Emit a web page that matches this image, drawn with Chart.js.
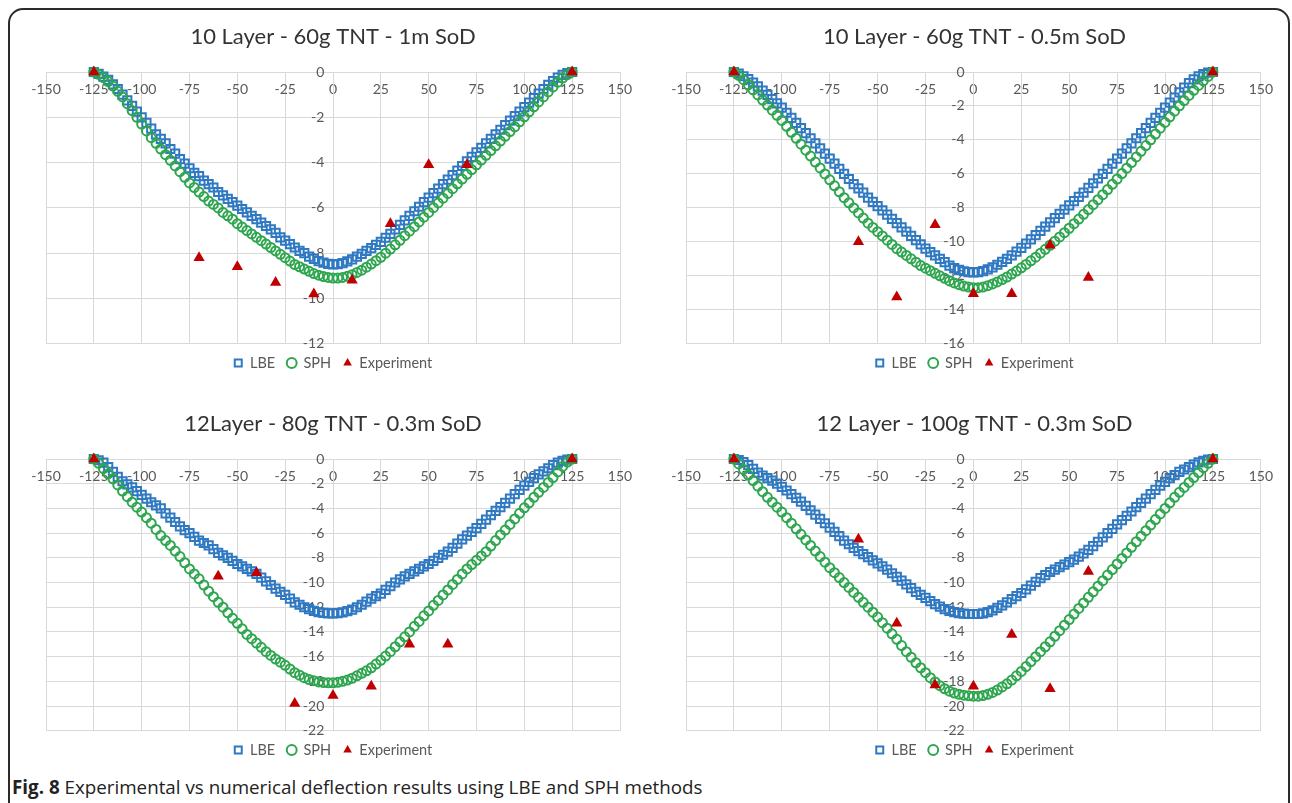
<!DOCTYPE html>
<html>
<head>
<meta charset="utf-8">
<script src="https://cdn.jsdelivr.net/npm/chart.js@4.4.1/dist/chart.umd.min.js"></script>
<style>
  html, body { margin: 0; padding: 0; background: #fff; width: 1292px; height: 803px; overflow: hidden; }
  .frame { position: absolute; left: 8px; top: 8px; width: 1282px; height: 840px; box-sizing: border-box;
           border: 2px solid #2b2b2b; border-radius: 15px; }
  canvas.panel { position: absolute; }
  .caption { position: absolute; left: 12px; top: 774px; font: 18.8px "Open Sans", sans-serif; color: #222; white-space: nowrap; }
  .caption b { font-weight: 700; }
</style>
</head>
<body>
<div class="frame"></div>
<canvas class="panel" id="p1" width="630" height="372" style="left:12px;top:12px"></canvas>
<canvas class="panel" id="p2" width="630" height="372" style="left:652px;top:12px"></canvas>
<canvas class="panel" id="p3" width="630" height="372" style="left:12px;top:399px"></canvas>
<canvas class="panel" id="p4" width="630" height="372" style="left:652px;top:399px"></canvas>
<div class="caption"><b>Fig. 8</b> Experimental vs numerical deflection results using LBE and SPH methods</div>

<script>
// x positions of the simulated profile (mm)
const SIM_X = [-125,-122.5,-120,-117.5,-115,-112.5,-110,-107.5,-105,-102.5,
  -100,-97.5,-95,-92.5,-90,-87.5,-85,-82.5,-80,-77.5,
  -75,-72.5,-70,-67.5,-65,-62.5,-60,-57.5,-55,-52.5,
  -50,-47.5,-45,-42.5,-40,-37.5,-35,-32.5,-30,-27.5,
  -25,-22.5,-20,-17.5,-15,-12.5,-10,-7.5,-5,-2.5,
  0,
  2.5,5,7.5,10,12.5,15,17.5,20,22.5,25,
  27.5,30,32.5,35,37.5,40,42.5,45,47.5,50,
  52.5,55,57.5,60,62.5,65,67.5,70,72.5,75,
  77.5,80,82.5,85,87.5,90,92.5,95,97.5,100,
  102.5,105,107.5,110,112.5,115,117.5,120,122.5,125];

// 10 Layer - 60g TNT - 1m SoD
const LBE_1 = [0,-0.08,-0.2,-0.35,-0.55,-0.75,-1.0,-1.25,-1.5,-1.75,
  -2.0,-2.25,-2.5,-2.75,-2.95,-3.15,-3.4,-3.6,-3.85,-4.05,
  -4.25,-4.45,-4.6,-4.8,-4.95,-5.1,-5.3,-5.45,-5.6,-5.75,
  -5.9,-6.05,-6.2,-6.35,-6.5,-6.65,-6.8,-6.95,-7.1,-7.3,
  -7.45,-7.6,-7.75,-7.9,-8.0,-8.15,-8.25,-8.35,-8.42,-8.47,
  -8.5,
  -8.48,-8.44,-8.36,-8.27,-8.15,-8.03,-7.9,-7.78,-7.63,-7.5,
  -7.32,-7.15,-6.95,-6.75,-6.55,-6.35,-6.15,-5.95,-5.75,-5.55,
  -5.35,-5.15,-4.95,-4.75,-4.55,-4.35,-4.15,-3.95,-3.75,-3.55,
  -3.35,-3.15,-2.95,-2.75,-2.55,-2.35,-2.15,-1.95,-1.75,-1.55,
  -1.35,-1.15,-0.95,-0.75,-0.57,-0.4,-0.25,-0.13,-0.05,0];
const SPH_1 = [0,-0.1,-0.25,-0.42,-0.62,-0.85,-1.1,-1.4,-1.7,-2.0,
  -2.3,-2.6,-2.9,-3.15,-3.4,-3.65,-3.9,-4.15,-4.4,-4.65,
  -4.9,-5.1,-5.3,-5.5,-5.7,-5.85,-6.0,-6.2,-6.35,-6.5,
  -6.7,-6.85,-7.0,-7.15,-7.3,-7.45,-7.6,-7.75,-7.9,-8.05,
  -8.2,-8.35,-8.5,-8.6,-8.7,-8.8,-8.9,-8.97,-9.03,-9.07,
  -9.1,
  -9.1,-9.07,-9.02,-8.95,-8.85,-8.75,-8.62,-8.48,-8.33,-8.18,
  -8.0,-7.82,-7.63,-7.43,-7.23,-7.03,-6.83,-6.62,-6.41,-6.2,
  -5.99,-5.78,-5.57,-5.36,-5.15,-4.94,-4.73,-4.52,-4.31,-4.1,
  -3.89,-3.68,-3.47,-3.26,-3.05,-2.84,-2.63,-2.42,-2.2,-1.98,
  -1.76,-1.54,-1.32,-1.1,-0.88,-0.66,-0.45,-0.27,-0.12,0];
const EXP_X_1 = [-125, -70, -50, -30, -10, 10, 30, 50, 70, 125];
const EXP_Y_1 = [0, -8.2, -8.6, -9.3, -9.8, -9.2, -6.7, -4.1, -4.1, 0];

// 10 Layer - 60g TNT - 0.5m SoD
const LBE_2 = [0,-0.1,-0.25,-0.42,-0.62,-0.85,-1.1,-1.35,-1.6,-1.85,
  -2.1,-2.4,-2.7,-3.0,-3.3,-3.6,-3.9,-4.2,-4.5,-4.8,
  -5.1,-5.4,-5.7,-6.0,-6.3,-6.6,-6.85,-7.1,-7.4,-7.65,
  -7.9,-8.15,-8.4,-8.65,-8.9,-9.15,-9.4,-9.65,-9.9,-10.15,
  -10.4,-10.6,-10.8,-11.0,-11.2,-11.4,-11.55,-11.65,-11.73,-11.78,
  -11.8,
  -11.78,-11.72,-11.62,-11.5,-11.35,-11.18,-11.0,-10.8,-10.58,-10.35,
  -10.1,-9.85,-9.6,-9.35,-9.1,-8.85,-8.6,-8.35,-8.1,-7.85,
  -7.6,-7.35,-7.1,-6.82,-6.55,-6.27,-6.0,-5.7,-5.4,-5.1,
  -4.8,-4.5,-4.2,-3.9,-3.6,-3.3,-3.0,-2.7,-2.4,-2.1,
  -1.8,-1.5,-1.2,-0.92,-0.66,-0.43,-0.25,-0.12,-0.04,0];
const SPH_2 = [0,-0.2,-0.45,-0.75,-1.05,-1.35,-1.65,-1.95,-2.25,-2.55,
  -2.85,-3.2,-3.55,-3.9,-4.25,-4.6,-4.95,-5.3,-5.65,-6.0,
  -6.35,-6.7,-7.05,-7.4,-7.7,-8.0,-8.3,-8.6,-8.9,-9.15,
  -9.4,-9.65,-9.9,-10.15,-10.4,-10.6,-10.8,-11.0,-11.2,-11.4,
  -11.55,-11.7,-11.85,-12.0,-12.15,-12.3,-12.42,-12.52,-12.6,-12.66,
  -12.7,
  -12.7,-12.66,-12.58,-12.48,-12.36,-12.22,-12.07,-11.9,-11.72,-11.53,
  -11.33,-11.12,-10.9,-10.67,-10.44,-10.2,-9.96,-9.71,-9.46,-9.2,
  -8.93,-8.66,-8.38,-8.1,-7.81,-7.52,-7.22,-6.92,-6.61,-6.3,
  -5.98,-5.66,-5.33,-5.0,-4.67,-4.33,-3.99,-3.65,-3.31,-2.97,
  -2.64,-2.31,-1.99,-1.68,-1.38,-1.08,-0.79,-0.52,-0.26,0];
const EXP_X_2 = [-125, -60, -40, -20, 0, 20, 40, 60, 125];
const EXP_Y_2 = [0, -10.0, -13.25, -9.0, -13.05, -13.05, -10.2, -12.1, 0];

// 12Layer - 80g TNT - 0.3m SoD
const LBE_3 = [0,-0.1,-0.3,-0.65,-1.05,-1.45,-1.8,-2.05,-2.3,-2.6,
  -2.9,-3.2,-3.5,-3.75,-4.0,-4.4,-4.75,-5.1,-5.45,-5.75,
  -6.0,-6.3,-6.6,-6.8,-7.0,-7.3,-7.6,-7.8,-8.0,-8.25,
  -8.5,-8.7,-8.9,-9.1,-9.3,-9.6,-9.9,-10.2,-10.5,-10.75,
  -11.0,-11.3,-11.6,-11.8,-12.0,-12.15,-12.3,-12.4,-12.45,-12.5,
  -12.5,
  -12.48,-12.42,-12.32,-12.2,-12.0,-11.8,-11.55,-11.3,-11.1,-10.9,
  -10.6,-10.3,-10.0,-9.75,-9.5,-9.3,-9.1,-8.9,-8.7,-8.5,
  -8.25,-8.0,-7.75,-7.5,-7.2,-6.85,-6.5,-6.2,-5.9,-5.6,
  -5.25,-4.9,-4.55,-4.2,-3.9,-3.55,-3.2,-2.85,-2.5,-2.15,
  -1.85,-1.55,-1.25,-1.0,-0.75,-0.5,-0.3,-0.15,-0.05,0];
const SPH_3 = [0,-0.35,-0.77,-1.2,-1.6,-2.1,-2.6,-3.05,-3.5,-3.9,
  -4.3,-4.75,-5.2,-5.7,-6.2,-6.6,-7.0,-7.45,-7.9,-8.4,
  -8.9,-9.3,-9.7,-10.2,-10.7,-11.15,-11.6,-12.0,-12.45,-12.9,
  -13.3,-13.75,-14.2,-14.55,-14.9,-15.25,-15.6,-15.9,-16.2,-16.45,
  -16.7,-17.0,-17.3,-17.5,-17.7,-17.85,-17.95,-18.05,-18.1,-18.12,
  -18.12,
  -18.08,-18.0,-17.9,-17.75,-17.55,-17.35,-17.15,-16.9,-16.6,-16.3,
  -15.95,-15.6,-15.2,-14.8,-14.4,-14.0,-13.55,-13.15,-12.7,-12.3,
  -11.85,-11.45,-11.0,-10.6,-10.15,-9.75,-9.3,-8.9,-8.55,-8.2,
  -7.85,-7.5,-7.05,-6.6,-6.15,-5.75,-5.3,-4.85,-4.4,-3.95,
  -3.55,-3.1,-2.7,-2.3,-1.9,-1.5,-1.05,-0.6,-0.25,0];
const EXP_X_3 = [-125, -60, -40, -20, 0, 20, 40, 60, 125];
const EXP_Y_3 = [0, -9.5, -9.2, -19.8, -19.15, -18.4, -15.0, -15.0, 0];

// 12 Layer - 100g TNT - 0.3m SoD
const LBE_4 = [0,-0.08,-0.25,-0.5,-0.8,-1.1,-1.35,-1.55,-1.75,-2.0,
  -2.25,-2.55,-2.85,-3.15,-3.45,-3.8,-4.15,-4.5,-4.85,-5.2,
  -5.55,-5.9,-6.25,-6.6,-6.9,-7.2,-7.45,-7.7,-7.95,-8.2,
  -8.45,-8.7,-8.95,-9.25,-9.55,-9.85,-10.15,-10.45,-10.75,-11.0,
  -11.25,-11.5,-11.75,-11.95,-12.15,-12.3,-12.4,-12.48,-12.52,-12.55,
  -12.55,
  -12.55,-12.5,-12.4,-12.25,-12.05,-11.85,-11.6,-11.35,-11.1,-10.85,
  -10.55,-10.25,-9.95,-9.65,-9.4,-9.15,-8.95,-8.75,-8.55,-8.35,
  -8.15,-7.9,-7.65,-7.35,-7.05,-6.7,-6.35,-6.0,-5.65,-5.3,
  -4.95,-4.6,-4.25,-3.9,-3.55,-3.2,-2.85,-2.5,-2.15,-1.85,
  -1.55,-1.3,-1.05,-0.85,-0.65,-0.45,-0.28,-0.14,-0.05,0];
const SPH_4 = [0,-0.4,-0.85,-1.3,-1.75,-2.2,-2.65,-3.1,-3.5,-3.9,
  -4.3,-4.75,-5.2,-5.65,-6.1,-6.55,-7.0,-7.45,-7.9,-8.35,
  -8.8,-9.2,-9.6,-10.0,-10.4,-10.8,-11.2,-11.6,-12.0,-12.4,
  -12.8,-13.25,-13.7,-14.15,-14.6,-15.1,-15.6,-16.05,-16.5,-16.9,
  -17.3,-17.7,-18.05,-18.35,-18.6,-18.8,-18.95,-19.05,-19.12,-19.17,
  -19.2,
  -19.2,-19.15,-19.05,-18.9,-18.7,-18.45,-18.2,-17.9,-17.55,-17.2,
  -16.8,-16.4,-16.0,-15.6,-15.2,-14.8,-14.35,-13.9,-13.45,-13.0,
  -12.55,-12.1,-11.65,-11.2,-10.75,-10.3,-9.85,-9.4,-8.95,-8.5,
  -8.05,-7.6,-7.15,-6.7,-6.25,-5.8,-5.35,-4.9,-4.45,-4.0,
  -3.55,-3.1,-2.7,-2.3,-1.9,-1.5,-1.1,-0.7,-0.35,0];
const EXP_X_4 = [-125, -60, -40, -20, 0, 20, 40, 60, 125];
const EXP_Y_4 = [0, -6.5, -13.3, -18.3, -18.4, -14.2, -18.6, -9.1, 0];

const X_MIN = -150, X_MAX = 150, X_STEP = 25, Y_STEP = 2;

const BLUE = "#2f78c2";
const GREEN = "#2ea64f";
const RED = "#c00000";
const GRID = "#d9d9d9";
const LABEL = "#595959";
const FONT = "Lato, 'Open Sans', sans-serif";

function toPoints(xs, ys) {
  return xs.map((x, i) => ({ x: x, y: ys[i] }));
}

function makeChart(id, title, yMin, lbe, sph, expX, expY, padRight) {
  return new Chart(document.getElementById(id), {
    type: "scatter",
    data: {
      datasets: [
        {
          label: "LBE",
          data: toPoints(SIM_X, lbe),
          pointStyle: "rect",
          pointRadius: 5.8,
          pointBorderWidth: 2,
          pointBorderColor: BLUE,
          pointBackgroundColor: "rgba(0,0,0,0)",
          borderColor: BLUE,
          backgroundColor: "rgba(0,0,0,0)",
          order: 2,
          clip: false,
        },
        {
          label: "SPH",
          data: toPoints(SIM_X, sph),
          pointStyle: "circle",
          pointRadius: 4.5,
          pointBorderWidth: 2,
          pointBorderColor: GREEN,
          pointBackgroundColor: "rgba(0,0,0,0)",
          borderColor: GREEN,
          backgroundColor: "rgba(0,0,0,0)",
          order: 1,
          clip: false,
        },
        {
          label: "Experiment",
          data: toPoints(expX, expY),
          pointStyle: "triangle",
          pointRadius: 6.5,
          pointBorderWidth: 0,
          pointBorderColor: RED,
          pointBackgroundColor: RED,
          borderColor: RED,
          backgroundColor: RED,
          order: 0,
          clip: false,
        },
      ],
    },
    options: {
      responsive: false,
      animation: false,
      layout: { padding: { left: 34, right: padRight, top: 0, bottom: 3.75 } },
      plugins: {
        title: {
          display: true,
          text: title,
          color: "#333333",
          font: { family: FONT, size: 22, weight: "normal", lineHeight: 1.2 },
          padding: { top: 11.8, bottom: 21.8 },
        },
        legend: {
          position: "bottom",
          labels: {
            usePointStyle: true,
            boxWidth: 9,
            boxHeight: 7,
            padding: 12,
            color: LABEL,
            font: { family: FONT, size: 14.5 },
            sort: (a, b) => a.datasetIndex - b.datasetIndex,
          },
        },
        tooltip: { enabled: false },
      },
      scales: {
        x: {
          type: "linear",
          position: { y: 0 },
          min: X_MIN,
          max: X_MAX,
          ticks: {
            stepSize: X_STEP,
            color: LABEL,
            font: { family: FONT, size: 14 },
            padding: 9,
            maxRotation: 0,
            autoSkip: false,
          },
          grid: { color: GRID, drawTicks: false },
          border: { color: GRID },
          afterFit: (scale) => { scale.height = 14.25; },
        },
        y: {
          type: "linear",
          position: { x: 0 },
          min: yMin,
          max: 0,
          ticks: {
            stepSize: Y_STEP,
            color: LABEL,
            font: { family: FONT, size: 14 },
            padding: 12,
            callback: (v) => v + "\u2002\u2009",
          },
          grid: { color: GRID, drawTicks: false },
          border: { color: GRID },
          afterFit: (scale) => { scale.width = 0; },
        },
      },
    },
  });
}

makeChart("p1", "10 Layer - 60g TNT - 1m SoD", -12, LBE_1, SPH_1, EXP_X_1, EXP_Y_1, 22);
makeChart("p2", "10 Layer - 60g TNT - 0.5m SoD", -16, LBE_2, SPH_2, EXP_X_2, EXP_Y_2, 19);
makeChart("p3", "12Layer - 80g TNT - 0.3m SoD", -22, LBE_3, SPH_3, EXP_X_3, EXP_Y_3, 22);
makeChart("p4", "12 Layer - 100g TNT - 0.3m SoD", -22, LBE_4, SPH_4, EXP_X_4, EXP_Y_4, 19);
</script>
</body>
</html>
